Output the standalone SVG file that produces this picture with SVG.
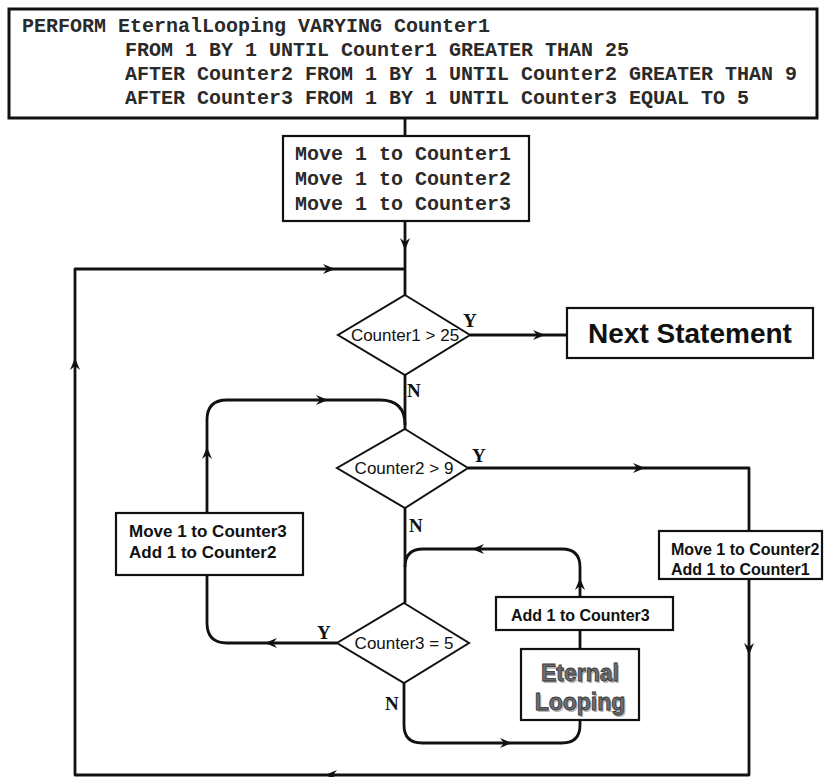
<svg xmlns="http://www.w3.org/2000/svg" xmlns:xlink="http://www.w3.org/1999/xlink" width="824" height="777" viewBox="0 0 824 777">
<style>
.bg{fill:#fff}
.box{fill:#fff;stroke:#111;stroke-width:2.2}
.tbox{fill:#fff;stroke:#111;stroke-width:3}
.dia{fill:#fff;stroke:#111;stroke-width:2}
.line{fill:none;stroke:#111;stroke-width:2.8;stroke-linejoin:round}
.mono{font-family:"Liberation Mono","Courier New",monospace;font-weight:bold;font-size:20px;fill:#2a2a2a}
.sans{font-family:"Liberation Sans",Arial,sans-serif;font-weight:bold;font-size:16px;fill:#111}
.dtxt{font-family:"Liberation Sans",Arial,sans-serif;font-size:17px;fill:#111;text-anchor:middle}
.lbl{font-family:"Liberation Serif","Times New Roman",serif;font-weight:bold;font-size:19px;fill:#111}
.big{font-family:"Liberation Sans",Arial,sans-serif;font-weight:bold;font-size:28px;fill:#111;text-anchor:middle}
.eter{font-family:"Liberation Sans",Arial,sans-serif;font-weight:bold;font-size:23px;fill:#6e6e6e;stroke:#383838;stroke-width:0.8;text-anchor:middle}
.eshadow{font-family:"Liberation Sans",Arial,sans-serif;font-weight:bold;font-size:23px;fill:#b5b5b5;text-anchor:middle}
.ah{fill:#111}
</style>
<defs>
<path id="ah" d="M0,0 L-12,-5 L-8,0 L-12,5 Z"/>
</defs>
<rect class="bg" x="0" y="0" width="824" height="777"/>

<g id="connectors">
<path class="line" d="M405,118 V136"/>
<path class="line" d="M405,221 V295"/>
<path class="line" d="M468,468 H749 V531"/>
<path class="line" d="M749,579 V775 H75 V269 H405"/>
<path class="line" d="M470,335 H567"/>
<path class="line" d="M405,375 V429"/>
<path class="line" d="M207,513 V420 Q207,400 227,400 H380 Q405,400 405,425"/>
<path class="line" d="M405,508 V603"/>
<path class="line" d="M580,597 V567 Q580,549 562,549 H423 Q405,549 405,567"/>
<path class="line" d="M337,643 H227 Q207,643 207,623 V575"/>
<path class="line" d="M404,683 V725 Q404,743 422,743 H562 Q580,743 580,725 V720"/>
<path class="line" d="M580,649 V630"/>
<use xlink:href="#ah" class="ah" transform="translate(405,250) rotate(90)"/>
<use xlink:href="#ah" class="ah" transform="translate(335,269)"/>
<use xlink:href="#ah" class="ah" transform="translate(75,358) rotate(-90)"/>
<use xlink:href="#ah" class="ah" transform="translate(325,775) rotate(180)"/>
<use xlink:href="#ah" class="ah" transform="translate(749,655) rotate(90)"/>
<use xlink:href="#ah" class="ah" transform="translate(545,335)"/>
<use xlink:href="#ah" class="ah" transform="translate(645,468)"/>
<use xlink:href="#ah" class="ah" transform="translate(328,400)"/>
<use xlink:href="#ah" class="ah" transform="translate(207,447) rotate(-90)"/>
<use xlink:href="#ah" class="ah" transform="translate(472,549) rotate(180)"/>
<use xlink:href="#ah" class="ah" transform="translate(580,578) rotate(-90)"/>
<use xlink:href="#ah" class="ah" transform="translate(265,643) rotate(180)"/>
<use xlink:href="#ah" class="ah" transform="translate(512,743)"/>
</g>

<g id="perform">
<rect class="tbox" x="9" y="9" width="808" height="109"/>
<text class="mono" x="22" y="32">PERFORM EternalLooping VARYING Counter1</text>
<text class="mono" x="125" y="56">FROM 1 BY 1 UNTIL Counter1 GREATER THAN 25</text>
<text class="mono" x="125" y="80">AFTER Counter2 FROM 1 BY 1 UNTIL Counter2 GREATER THAN 9</text>
<text class="mono" x="125" y="104">AFTER Counter3 FROM 1 BY 1 UNTIL Counter3 EQUAL TO 5</text>
</g>

<g id="init">
<rect class="box" x="283" y="136" width="246" height="85"/>
<text class="mono" x="295" y="160">Move 1 to Counter1</text>
<text class="mono" x="295" y="185">Move 1 to Counter2</text>
<text class="mono" x="295" y="210">Move 1 to Counter3</text>
</g>

<g id="cond1">
<polygon class="dia" points="405,295 470,335 405,375 338,335"/>
<text class="dtxt" x="405" y="341">Counter1 &gt; 25</text>
<text class="lbl" x="463" y="327">Y</text>
<text class="lbl" x="407" y="397">N</text>
</g>

<g id="next">
<rect class="box" x="567" y="308" width="246" height="50"/>
<text class="big" x="690" y="343">Next Statement</text>
</g>

<g id="cond2">
<polygon class="dia" points="405,429 468,468 405,508 337,468"/>
<text class="dtxt" x="404" y="474">Counter2 &gt; 9</text>
<text class="lbl" x="472" y="462">Y</text>
<text class="lbl" x="409" y="532">N</text>
</g>

<g id="reset3">
<rect class="box" x="116" y="513" width="187" height="62"/>
<text class="sans" x="129" y="537" style="font-size:17px">Move 1 to Counter3</text>
<text class="sans" x="129" y="558" style="font-size:17px">Add 1 to Counter2</text>
</g>

<g id="reset2">
<rect class="box" x="659" y="531" width="163" height="48"/>
<text class="sans" x="671" y="555">Move 1 to Counter2</text>
<text class="sans" x="671" y="575">Add 1 to Counter1</text>
</g>

<g id="cond3">
<polygon class="dia" points="404,603 469,643 404,683 337,643"/>
<text class="dtxt" x="404" y="649">Counter3 = 5</text>
<text class="lbl" x="317" y="639">Y</text>
<text class="lbl" x="385" y="710">N</text>
</g>

<g id="add3">
<rect class="box" x="496" y="597" width="177" height="33"/>
<text class="sans" x="511" y="621">Add 1 to Counter3</text>
</g>

<g id="eternal">
<rect class="box" x="521" y="649" width="118" height="71"/>
<text class="eshadow" x="581.5" y="682.5">Eternal</text>
<text class="eshadow" x="581.5" y="711.5">Looping</text>
<text class="eter" x="580" y="681">Eternal</text>
<text class="eter" x="580" y="710">Looping</text>
</g>
</svg>
